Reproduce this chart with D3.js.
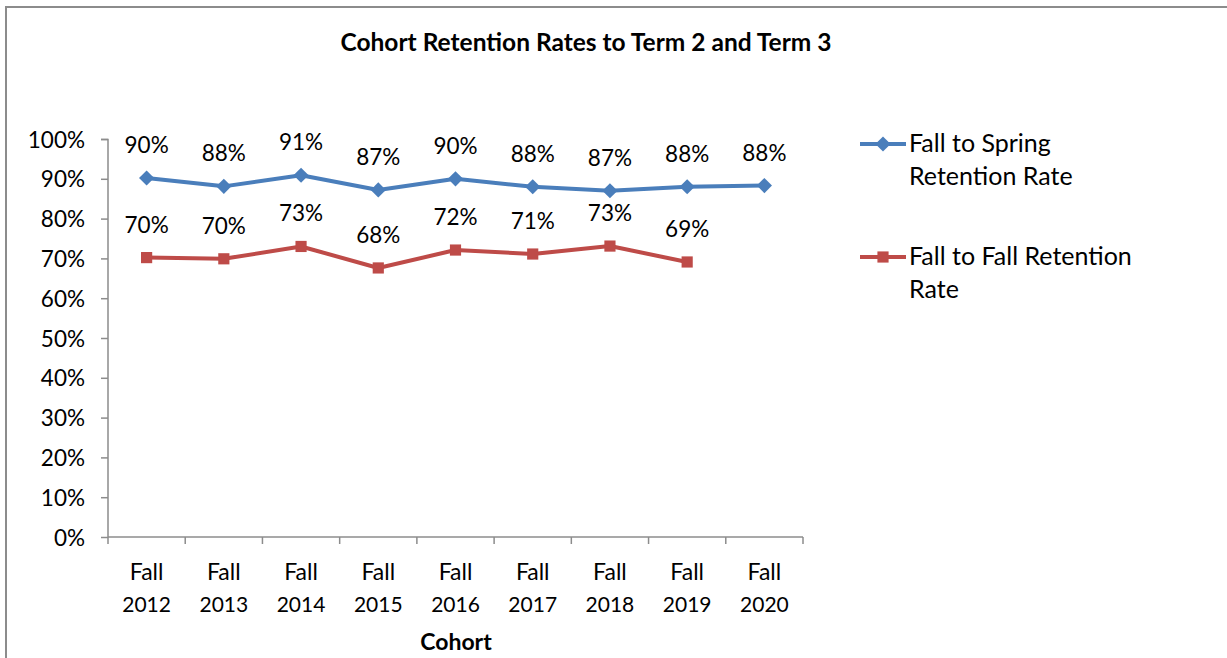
<!DOCTYPE html>
<html><head><meta charset="utf-8">
<script src="https://cdn.jsdelivr.net/npm/d3@7"></script>
<style>body{margin:0;background:#fff}svg{display:block}text{font-family:Lato,"Open Sans",sans-serif;fill:#000}</style>
</head><body><svg id="c" width="1227" height="658"></svg>
<script>
const categories = ["Fall 2012","Fall 2013","Fall 2014","Fall 2015","Fall 2016","Fall 2017","Fall 2018","Fall 2019","Fall 2020"];
const springValues = [90.2, 88.1, 90.9, 87.2, 90.0, 88.0, 87.0, 88.0, 88.3];
const springLabels = ["90%","88%","91%","87%","90%","88%","87%","88%","88%"];
const fallValues = [70.2, 69.9, 73.0, 67.6, 72.1, 71.1, 73.1, 69.1];
const fallLabels = ["70%","70%","73%","68%","72%","71%","73%","69%"];
const yTicks = [0,10,20,30,40,50,60,70,80,90,100];
const seriesNames = [["Fall to Spring","Retention Rate"],["Fall to Fall Retention","Rate"]];

const svg = d3.select("#c");
const blue = "#4a7ebb", red = "#be4b48";
svg.append("path").attr("d","M6,668V7H1240").attr("fill","none").attr("stroke","#8c8c8c").attr("stroke-width",2);

const x = d3.scaleBand().domain(categories).range([108,803]);
const y = d3.scaleLinear().domain([0,100]).range([537,139]);
const cx = c => x(c) + x.bandwidth()/2;

svg.append("text").attr("x",586).attr("y",51).attr("text-anchor","middle")
  .style("font-size","24.5px").style("font-weight","bold").text("Cohort Retention Rates to Term 2 and Term 3");

const ya = svg.append("g").attr("transform","translate(108,0)")
  .call(d3.axisLeft(y).tickValues(yTicks).tickSize(7).tickPadding(16).tickFormat(d=>d+"%"));
ya.selectAll("path,line").attr("stroke","#8c8c8c").attr("stroke-width",1.5);
ya.selectAll("text").style("font-size","22.5px").style("font-family","Lato,'Open Sans',sans-serif").attr("dy","0.36em");
ya.select("path").attr("d","M-7,139.5H0V537");

const xa = svg.append("g").attr("transform","translate(0,537)");
xa.append("line").attr("x1",108).attr("x2",803).attr("stroke","#8c8c8c").attr("stroke-width",1.5);
const edges = categories.map(c=>x(c)).concat([803]);
xa.selectAll("line.t").data(edges).enter().append("line").attr("class","t")
  .attr("x1",d=>d).attr("x2",d=>d).attr("y1",0).attr("y2",7).attr("stroke","#8c8c8c").attr("stroke-width",1.5);
const xl = xa.selectAll("text.l").data(categories).enter().append("text")
  .attr("x",d=>cx(d)).attr("text-anchor","middle").style("font-size","21px");
xl.append("tspan").attr("x",d=>cx(d)).attr("y",43).style("font-size","23px").text(d=>d.split(" ")[0]);
xl.append("tspan").attr("x",d=>cx(d)).attr("y",75).text(d=>d.split(" ")[1]);
svg.append("text").attr("x",456).attr("y",650).attr("text-anchor","middle")
  .style("font-size","23px").style("font-weight","bold").text("Cohort");

const line = d3.line().x((d,i)=>cx(categories[i])).y(d=>y(d));
function series(vals, labels, color, rot, size){
  svg.append("path").attr("d",line(vals)).attr("fill","none").attr("stroke",color).attr("stroke-width",4).attr("stroke-linejoin","round");
  svg.selectAll(null).data(vals).enter().append("path")
    .attr("d",d3.symbol().type(d3.symbolSquare).size(size))
    .attr("transform",(d,i)=>`translate(${cx(categories[i])},${y(d)}) rotate(${rot})`)
    .attr("fill",color);
  svg.selectAll(null).data(vals).enter().append("text")
    .attr("x",(d,i)=>cx(categories[i])).attr("y",d=>y(d)-25).attr("text-anchor","middle")
    .style("font-size","22.5px").text((d,i)=>labels[i]);
}
series(springValues, springLabels, blue, 45, 115);
series(fallValues, fallLabels, red, 0, 125);

const leg = [{c:blue,y:144},{c:red,y:257}];
leg.forEach((l,i)=>{
  svg.append("line").attr("x1",860).attr("x2",906).attr("y1",l.y).attr("y2",l.y).attr("stroke",l.c).attr("stroke-width",4);
  svg.append("path").attr("d",d3.symbol().type(d3.symbolSquare).size(i===0?115:125)())
    .attr("transform",`translate(883,${l.y})`+(i===0?" rotate(45)":"")).attr("fill",l.c);
  const t = svg.append("text").style("font-size","25px");
  t.append("tspan").attr("x",909).attr("y",l.y+8).text(seriesNames[i][0]);
  t.append("tspan").attr("x",909).attr("y",l.y+41).text(seriesNames[i][1]);
});
</script></body></html>
